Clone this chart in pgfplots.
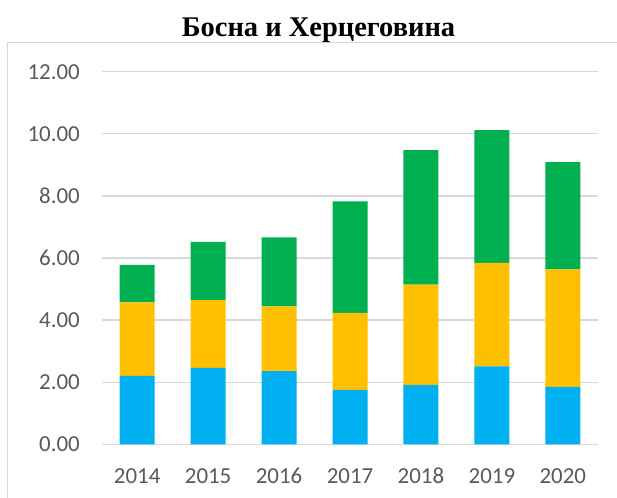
\documentclass[border=0pt]{standalone}
\usepackage{fontspec}
\setmainfont{Carlito}
\newfontfamily\titlefont{Liberation Serif}
\usepackage{pgfplots}
\pgfplotsset{compat=1.18}
\definecolor{cblue}{HTML}{00B0F0}
\definecolor{corange}{HTML}{FFC000}
\definecolor{cgreen}{HTML}{00B050}
\definecolor{cgrid}{HTML}{D9D9D9}
\definecolor{ctick}{HTML}{595959}
\begin{document}
\begin{tikzpicture}[x=1bp,y=1bp]
\path[use as bounding box] (0,0) rectangle (617,498);
\draw[cgrid, line width=1.2bp] (7.3,-10) -- (7.3,455.3) -- (640,455.3);
\node[anchor=base, inner sep=0pt] at (318.5,461.3) {\titlefont\bfseries\fontsize{28.6}{32}\selectfont Босна и Херцеговина};
\begin{axis}[
  at={(101.7bp,53.7bp)}, anchor=south west,
  scale only axis, width=496.6bp, height=372.6bp,
  ybar stacked, bar width=35bp,
  xmin=-0.5, xmax=6.5, ymin=0, ymax=12,
  xtick={0,...,6},
  xticklabels={2014,2015,2016,2017,2018,2019,2020},
  ytick={0,2,...,12},
  axis line style={draw=none},
  ymajorgrids, grid style={cgrid, line width=1.3bp},
  major tick length=0pt, tick style={draw=none},
  tick label style={font=\fontsize{23}{26}\selectfont, text=ctick},
  /pgf/number format/assume math mode=true,
  yticklabel={\pgfmathprintnumber[fixed, fixed zerofill, precision=2]{\tick}},
  yticklabel style={anchor=east, inner sep=0pt, xshift=-21.7bp},
  xticklabel style={anchor=north, inner sep=0pt, yshift=-23.7bp},
  clip=false,
]
\addplot[fill=cblue, draw=none] coordinates {(0,2.20) (1,2.46) (2,2.36) (3,1.75) (4,1.91) (5,2.51) (6,1.85)};
\addplot[fill=corange, draw=none] coordinates {(0,2.37) (1,2.18) (2,2.08) (3,2.48) (4,3.23) (5,3.33) (6,3.78)};
\addplot[fill=cgreen, draw=none] coordinates {(0,1.21) (1,1.88) (2,2.22) (3,3.59) (4,4.33) (5,4.28) (6,3.46)};
\end{axis}
\end{tikzpicture}
\end{document}
